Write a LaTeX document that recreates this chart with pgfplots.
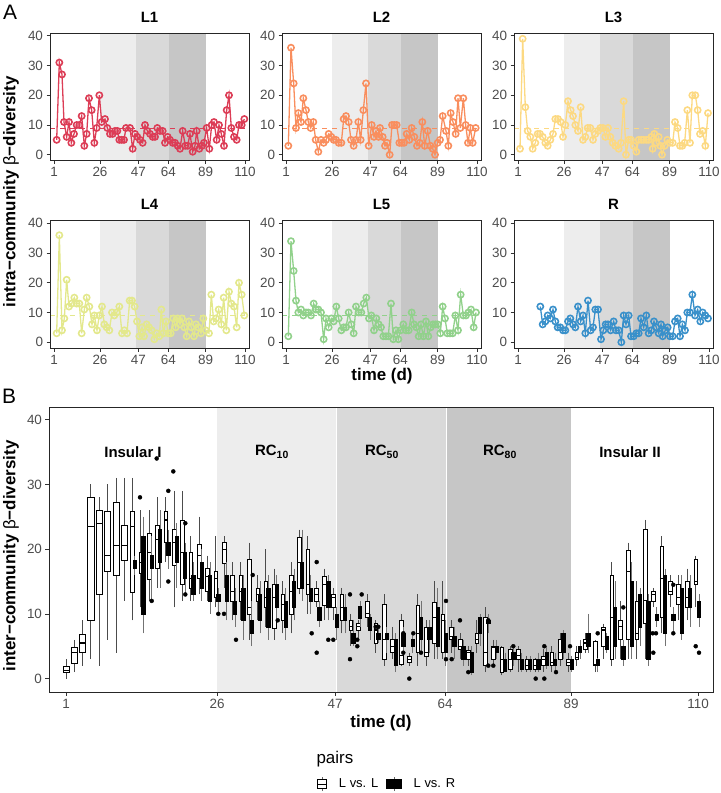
\documentclass[border=0pt]{standalone}
\usepackage{pgfplots}
\pgfplotsset{compat=1.18}
\usepgfplotslibrary{statistics}
\usepackage{pgfplotstable}
\usepackage{fontspec}
\setmainfont{Liberation Sans}
\definecolor{cLa}{HTML}{DC3D56}
\definecolor{cLb}{HTML}{F98E5E}
\definecolor{cLc}{HTML}{FCD982}
\definecolor{cLd}{HTML}{E3E88C}
\definecolor{cLe}{HTML}{91D18B}
\definecolor{cR}{HTML}{3990CA}
\definecolor{shA}{HTML}{EDEDED}
\definecolor{shB}{HTML}{D9D9D9}
\definecolor{shC}{HTML}{C6C6C6}
\definecolor{tickcol}{HTML}{4D4D4D}
\newcommand\tickfont{\fontsize{13.5}{14}\selectfont}
\newcommand\titlefont{\fontsize{15}{16}\selectfont}
\newcommand\labfont{\fontsize{17}{18}\selectfont}
\newcommand\legfont{\fontsize{13}{14}\selectfont}

\pgfplotsset{
 base/.style={scale only axis, tick pos=left, tick align=outside, major tick length=3.5bp,
   tick style={black!80, line width=0.7bp}, axis line style={black!85, line width=0.8bp},
   ticklabel style={font=\tickfont, text=tickcol}, /pgf/number format/assume math mode=true,
   axis on top, clip=true, ytick={0,10,20,30,40}, yticklabels={0,10,20,30,40}},
 panelA/.style={base, width=199bp, height=127.5bp, xmin=150, xmax=747, ymin=-1.95, ymax=40.95,
   xtick={162,300,415,505,617,735}, xticklabels={1,26,47,64,89,110},
   title style={font=\bfseries\titlefont, at={(0.5,1)}, anchor=center, yshift=10bp}},
 ser/.style={color=#1, line width=1.3bp, mark=o, mark size=3.1bp, mark options={line width=1.6bp, solid}},
 mean/.style={color=#1, line width=0.8bp, dash pattern=on 5bp off 5bp, forget plot},
 boxW/.style={draw=black, fill=white, line width=0.6bp, solid, boxplot/draw direction=y,
   boxplot/box extend=3.6, boxplot/whisker extend=0,
   boxplot/every whisker/.style={black!70}, boxplot/every median/.style={line width=1.1bp}},
 boxWw/.style={boxW, boxplot/box extend=6.4},
 boxB/.style={draw=black, fill=black, line width=0.6bp, solid, boxplot/draw direction=y,
   boxplot/box extend=3.4, boxplot/whisker extend=0,
   boxplot/every whisker/.style={black!55}},
}
\newcommand\shadeA{%
 \addplot[fill=shA, draw=none, forget plot] coordinates {(300,-5) (407,-5) (407,45) (300,45)} --cycle;
 \addplot[fill=shB, draw=none, forget plot] coordinates {(407,-5) (506,-5) (506,45) (407,45)} --cycle;
 \addplot[fill=shC, draw=none, forget plot] coordinates {(506,-5) (618,-5) (618,45) (506,45)} --cycle;
}
% draw one prepared box per table row: #1 table, #2 style, #3 median column
\newcommand\drawboxes[3]{%
  \pgfplotstablegetrowsof{#1}%
  \pgfmathtruncatemacro\NR{\pgfplotsretval-1}%
  \pgfplotsinvokeforeach{0,...,\NR}{%
    \pgfplotstablegetelem{##1}{x}\of#1\edef\bx{\pgfplotsretval}%
    \pgfplotstablegetelem{##1}{lw}\of#1\edef\blw{\pgfplotsretval}%
    \pgfplotstablegetelem{##1}{q1}\of#1\edef\bqa{\pgfplotsretval}%
    \pgfplotstablegetelem{##1}{#3}\of#1\edef\bmd{\pgfplotsretval}%
    \pgfplotstablegetelem{##1}{q3}\of#1\edef\bqb{\pgfplotsretval}%
    \pgfplotstablegetelem{##1}{uw}\of#1\edef\buw{\pgfplotsretval}%
    \edef\tmp{\noexpand\addplot[#2, forget plot, boxplot prepared={draw position=\bx, lower whisker=\blw, lower quartile=\bqa, median=\bmd, upper quartile=\bqb, upper whisker=\buw}] coordinates {};}%
    \tmp
  }%
}

\pgfplotstableread{
x lw q1 med q3 uw
66 0 0.9 1.2 1.95 3
74 1 2.3 4 4.8 6
82.3 2 4 5.5 6.8 9
90.7 3 9 23.5 28 30
99 2 13 24 26 28
107.3 6 16.5 19 25.8 30
116 4 16 20.5 27.3 31
124.3 12 18.2 20.5 23.7 31
}\LLw

\pgfplotstableread{
x lw q1 med q3 uw
132.3 9 13.3 23.5 25.8 31
140.7 11 16.3 18 19.5 26
149 12 15.3 19.5 22.5 26
157.3 14 17 21.5 23.7 28
165.7 18 21 24.5 25.8 28
174 11 17.5 21 23 29
182.3 12 14.5 19.5 24.5 29
190.7 12 14 15.5 19.5 22
199 13 15.5 19 20.8 25
207.3 12 13.5 15.8 17 19
215.7 11 12.5 15.5 16.5 22
224 14 17.8 20 21 22
232.3 9 12 13.5 16 18
240.7 9 12 13.5 16 18
249.3 6 10 11 18.5 21
257.7 9 12 13 14 16
265.7 8 11 12.5 15 20
274 6 7.8 12.5 14.5 17
282.7 7 9 11.5 13 15
291 7 10 13.5 16 18
299.3 13 14 18 21.8 23
307.7 10 13 14.5 20 22
316 11 12 13 14 15
324.3 9 11.3 14.5 15.8 17
333.3 9 11 12.5 13 14
341.7 7 9 11 13 14
350.7 5 7.5 8 9 10
358.3 6 7.5 8 8.5 9
367.3 8 9.5 10 12 13
375.7 4 5.5 7.5 8.5 9
384 2 3 6 11.5 13
392.3 3 4 5 6 8
401 2 2.2 3.5 9 10
409.3 2 2.5 3 3.5 4
417.7 2 4 7 11.3 13
426 2 3.5 4 8 9
434.3 3 5.5 9.5 11.8 15
442.7 3 4 9 10 15
451 4 6 6.5 8 9
460 3 4.5 5 6 7
468.3 2 3 4 4.3 5
476.7 4 5.5 6 7 9
485 1 2 4 9.5 11
493.3 2 3 4.8 5 6
501.7 0.5 1 3 4.8 5
510 1 1.5 3 4.5 5
518.3 1 3 3.5 4.5 5
526.7 1 1.5 2 3 3.5
535 1 1.5 2 3 3.2
543.3 1 2 3 3.5 4.5
551.7 1 2 2.5 4 5
560 2 3 4 6 7
568.3 1 2 2.5 3 4
576.7 2 3 3.3 4 5
585 4 4.5 5.5 6 7
595 1 2 2.2 5.8 6
603.3 3 5 7.5 8 8.5
611.7 2 3 9.5 16 18
620 3 6 8 9 12
628.3 3 6 16.5 19.8 21
636.7 3 6 7 12 15
645 3 8.5 12 23 24.5
653.3 11 12 13 13.5 14
661.7 7 9.5 15.5 20.5 22
670 11 13 13.5 15 16
678.3 9 11.5 12.5 14.5 16
687.3 9 11 12.5 15 17
695.7 11 14.5 15 18.5 19
}\LLn

\pgfplotstableread{
x lw q1 q3 uw
134.7 16 17 18.2 19
143.3 7 10 22 25
151.7 12 17 19 22
160 14 18 23 26
168.3 17 19 21 23
176.7 14 18 22 24
185 13 15.5 19.5 21
193.3 12 13 16 18
201.7 12 14 18 20
210 10 12 16 18
218.3 10.2 12 13 14
226.7 9 12 16 18
235 8 10 12 14
243.3 6 9 14 16
251.7 5 7 9 12
260 7 9 13 15
268.3 6 8 14 16
276.7 9 11 14.5 16
285.7 6 8 12 14
294 9 11 15 17
302 12 14 18 23
310.7 10 12 14 16
319.3 8 9 11 12
328.3 9 11 15 16
336.7 6 8 10 11
345 7 9 11 13
353.3 5 5.5 7 9
360 8 9.3 11.2 12
370 6 7.5 9.5 10
378.3 5.5 6 7 8
386.7 4 6 7 8
395.7 1 2 6 7
403.3 4 5 7 8
412.7 4 5 6 7
421 4 6 9.5 12
429.3 4 6 8 9
437.7 3 5 11 14
445.7 2 4 7 9
454.3 3 5 6.5 8
463.3 2 3 5 6
471.7 0.5 1 4 5
480 5 7 9.5 10
488.3 7 8.5 9 10
496.7 3 4 5 6
505 1 1.2 3 4
513.3 2 3 4 5
521.7 1 1.5 3 4
530 1 1.5 3 3.5
538.3 1 1.5 3 4
546.7 1.5 2 4 5
555 1 2 3 4
563.3 3 4 7 7.5
571.7 1 1.5 3 3.5
580 3 4 5 6
588.3 4 5 7 10
597.7 1 2 3 3.2
606.7 4 4.5 6.5 7
615 3 5 11 15
623.3 2 3 5 6
631.7 3 5 15 18
640 5 8 13 14
648.3 2 3 12 13
656.7 8 9 10 11
665 5 7 16 17
673.3 7 9 10 11
681.7 6 7 14 16
690 8 11 14 16
699 8 9.5 12 13
}\LR

\pgfplotstableread{
x y
140 28
151.7 12
156.7 34
168.3 29
168.3 15
173.3 32
185.3 24
185.3 13
218.3 10
224 10
236 6
252.7 16
277.7 9
311.7 7
316.7 18
316.7 4
328.3 6
333.3 6
350 13
350 3
357.3 6
357.3 5
361.7 13
375.7 8
378.3 8
403.3 7
403.3 5.5
403.3 4
409.3 0
413.3 7
421 4
446 12
446 3
451.7 3
460 9
468.3 1
488.3 9
488.3 2
493.3 2
513.3 5
535.7 0
544.3 5
544.3 0
556 1
570 5
597.7 7
623.3 11
652.7 7
656 7
653.3 4
673.3 14.5
673.3 7
695.7 5
699 4
}\OUT

\begin{document}
\begin{tikzpicture}
\useasboundingbox (0,0) rectangle (721bp,-793bp);

% ---------- Panel A ----------
\begin{axis}[panelA, at={(50bp,-33bp)}, anchor=north west, title={L1}]
\shadeA
\addplot[mean=cLa] coordinates {(150,8.9) (747,8.9)};
\addplot[ser=cLa] coordinates {(170,5)(178,31)(186,27)(192,11)(200,6)(207,11)(214,4)(222,7)(230,10)(238,10)(245,13)(253,3)(260,7)(267,19)(275,15)(283,4)(290,9)(298,20)(305,11)(315,12)(322,9)(330,7)(338,7)(345,8)(352,8)(358,5)(365,5)(372,5)(378,9)(390,9)(398,2)(405,7)(412,6)(420,5)(428,4)(435,10)(442,8)(450,7)(458,6)(465,6)(472,9)(480,8)(488,8)(495,4)(503,6)(510,5)(518,4)(525,4)(533,3)(540,2)(548,8)(556,3)(563,3)(570,7)(578,1)(585,3)(590,8)(598,2)(606,3)(612,4)(620,9)(628,2)(635,10)(642,11)(650,5)(657,10)(664,7)(672,3)(680,15)(687,20)(694,9)(702,6)(710,5)(717,10)(725,10)(733,12)};
\end{axis}

\begin{axis}[panelA, at={(282bp,-33bp)}, anchor=north west, title={L2}]
\shadeA
\addplot[mean=cLb] coordinates {(150,8.9) (747,8.9)};
\addplot[ser=cLb] coordinates {(169,3)(177,36)(185,24)(192,9)(199,14)(207,11)(214,19)(222,15)(229,11)(236,9)(244,11)(251,5)(259,1)(267,5)(275,4)(282,5)(290,7)(298,6)(305,5)(312,5)(320,4)(328,4)(335,12)(342,13)(350,11)(357,5)(365,3)(372,5)(379,11)(386,5)(394,15)(402,24)(410,3)(419,10)(426,6)(432,8)(440,6)(444,9)(452,6)(459,3)(465,4)(473,0)(480,10)(487,10)(494,10)(502,4)(509,4)(516,4)(524,7)(532,5)(539,9)(547,6)(555,3)(563,4)(571,11)(578,3)(587,8)(595,3)(602,2)(609,0)(617,4)(624,5)(632,13)(642,8)(649,3)(656,14)(663,11)(671,7)(678,19)(685,9)(694,19)(701,10)(708,4)(715,9)(722,4)(731,9)};
\end{axis}

\begin{axis}[panelA, at={(514bp,-33bp)}, anchor=north west, title={L3}]
\shadeA
\addplot[mean=cLc] coordinates {(150,8.9) (747,8.9)};
\addplot[ser=cLc] coordinates {(168,2)(176,39)(184,16)(191,8)(199,6)(206,2)(214,4)(221,7)(228,7)(236,6)(244,4)(251,3)(259,5)(267,7)(274,12)(282,12)(290,11)(297,6)(304,10)(312,18)(320,15)(327,13)(334,10)(342,8)(350,16)(357,5)(364,6)(371,9)(379,9)(387,5)(394,7)(402,8)(409,9)(417,9)(424,6)(432,9)(439,6)(446,4)(454,3)(464,2)(471,4)(479,18)(486,0)(494,5)(501,5)(509,3)(517,1)(524,5)(532,5)(539,5)(547,5)(554,5)(562,6)(566,2)(571,7)(577,4)(584,6)(589,3)(594,0)(602,3)(610,5)(618,4)(626,4)(633,11)(641,9)(648,3)(655,3)(662,4)(670,15)(678,4)(685,20)(694,20)(701,15)(708,7)(716,8)(724,3)(732,14)};
\end{axis}

\begin{axis}[panelA, at={(50bp,-220.5bp)}, anchor=north west, title={L4}]
\shadeA
\addplot[mean=cLd] coordinates {(150,8.9) (747,8.9)};
\addplot[ser=cLd] coordinates {(170,3)(178,36)(186,4)(193,8)(200,21)(207,12)(215,13)(223,15)(230,13)(238,13)(245,3)(253,11)(260,15)(268,12)(276,6)(283,9)(291,4)(298,9)(306,12)(313,6)(320,5)(328,4)(336,10)(343,9)(350,10)(358,12)(366,3)(373,4)(381,3)(389,14)(396,14)(404,12)(411,7)(418,2)(426,5)(432,2)(440,6)(447,5)(455,4)(463,1)(470,3)(478,2)(484,11)(490,3)(498,7)(505,3)(512,3)(520,8)(527,5)(533,8)(540,6)(546,8)(553,5)(560,2)(567,7)(574,5)(582,2)(588,6)(595,5)(603,3)(610,8)(617,4)(627,3)(634,16)(641,7)(648,8)(656,11)(664,6)(671,15)(679,4)(687,17)(694,13)(702,12)(710,5)(717,20)(725,16)(733,9)};
\end{axis}

\begin{axis}[panelA, at={(282bp,-220.5bp)}, anchor=north west, title={L5}]
\shadeA
\addplot[mean=cLe] coordinates {(150,8.9) (747,8.9)};
\addplot[ser=cLe] coordinates {(169,2)(177,34)(185,24)(192,14)(199,10)(207,11)(214,9)(222,10)(229,10)(237,9)(245,13)(252,11)(259,11)(267,10)(275,1)(282,8)(290,5)(298,8)(305,7)(313,12)(320,8)(328,4)(335,5)(342,5)(350,10)(358,6)(365,3)(372,12)(380,10)(388,10)(395,13)(403,15)(411,8)(418,9)(426,4)(433,8)(440,6)(447,5)(454,2)(462,2)(469,2)(477,13)(484,1)(492,4)(499,1)(506,4)(514,6)(522,4)(530,4)(539,10)(546,6)(553,5)(560,2)(567,6)(574,2)(582,7)(589,2)(596,5)(603,6)(610,6)(617,6)(625,3)(632,12)(639,8)(646,3)(654,3)(662,3)(670,9)(678,4)(686,16)(694,9)(702,9)(709,10)(717,11)(725,5)(732,10)};
\end{axis}

\begin{axis}[panelA, at={(514bp,-220.5bp)}, anchor=north west, title={R}]
\shadeA
\addplot[ser=cR] coordinates {(229,12)(236,6)(244,7)(251,9)(259,8)(267,11)(274,7)(281,5)(289,5)(297,4)(304,4)(312,7)(319,8)(327,6)(334,5)(342,12)(350,7)(357,9)(364,3)(372,14)(380,4)(387,5)(394,11)(402,11)(411,1)(418,4)(425,6)(432,6)(440,4)(449,7)(456,4)(464,4)(472,0)(479,9)(486,6)(494,9)(501,2)(509,2)(517,3)(524,3)(531,8)(539,5)(547,9)(554,3)(562,4)(570,7)(577,5)(584,3)(591,6)(596,2)(604,4)(611,5)(618,2)(626,2)(633,7)(641,8)(648,2)(655,6)(663,4)(670,10)(678,10)(685,16)(693,9)(701,11)(709,7)(716,10)(724,9)(732,8)};
\end{axis}

% ---------- Panel B ----------
\begin{axis}[base, at={(49bp,-407bp)}, anchor=north west, width=664bp, height=285bp,
  xmin=49, xmax=713, ymin=-2.07, ymax=41.95,
  xtick={66,217,335,445,571,698}, xticklabels={1,26,47,64,89,110},
  legend style={at={(axis description cs:0.4036,-0.323)}, anchor=west, draw=none, fill=none,
    inner sep=0pt, legend columns=2, font=\legfont, legend cell align=left,
    /tikz/every odd column/.append style={column sep=10bp},
    /tikz/every even column/.append style={column sep=6bp}}]
\addplot[fill=shA, draw=none, forget plot] coordinates {(217,-5) (336,-5) (336,45) (217,45)} --cycle;
\addplot[fill=shB, draw=none, forget plot] coordinates {(336,-5) (446,-5) (446,45) (336,45)} --cycle;
\addplot[fill=shC, draw=none, forget plot] coordinates {(446,-5) (571,-5) (571,45) (446,45)} --cycle;
\addplot[white, line width=0.8bp, forget plot] coordinates {(336,-5) (336,45)};
\addplot[white, line width=0.8bp, forget plot] coordinates {(446,-5) (446,45)};
\drawboxes{\LLw}{boxWw}{med}
\drawboxes{\LLn}{boxW}{med}
\drawboxes{\LR}{boxB}{q1}
% outliers
\addplot[only marks, mark=*, mark size=2bp, black, forget plot] table[x=x, y=y] {\OUT};
% phase labels
\node[font=\bfseries\fontsize{15}{16}\selectfont] at (axis cs:133,35) {Insular I};
\node[font=\bfseries\fontsize{15}{16}\selectfont] at (axis cs:272,35) {RC\textsubscript{10}};
\node[font=\bfseries\fontsize{15}{16}\selectfont] at (axis cs:382,35) {RC\textsubscript{50}};
\node[font=\bfseries\fontsize{15}{16}\selectfont] at (axis cs:500,35) {RC\textsubscript{80}};
\node[font=\bfseries\fontsize{15}{16}\selectfont] at (axis cs:630,35) {Insular II};
% legend
\addlegendimage{legend image code/.code={
  \draw[black!60, line width=0.6bp] (4.5bp,-7bp) -- (4.5bp,7bp);
  \draw[black, fill=white, line width=0.6bp] (0bp,-4.5bp) rectangle (9bp,4.5bp);
  \draw[black, line width=0.8bp] (0bp,0bp) -- (9bp,0bp);}}
\addlegendentry{L vs. L}
\addlegendimage{legend image code/.code={
  \draw[black!60, line width=0.6bp] (7.5bp,-7bp) -- (7.5bp,7bp);
  \fill[black] (0bp,-4.5bp) rectangle (15bp,4.5bp);}}
\addlegendentry{L vs. R}
\end{axis}

% shared labels
\node[font=\fontsize{21}{22}\selectfont, anchor=center] at (10bp,-12bp) {A};
\node[font=\fontsize{21}{22}\selectfont, anchor=center] at (9bp,-396bp) {B};
\node[font=\bfseries\labfont, rotate=90] at (11bp,-192bp) {intra−community {\mdseries β}−diversity};
\node[font=\bfseries\labfont, rotate=90] at (11bp,-556bp) {inter−community {\mdseries β}−diversity};
\node[font=\bfseries\labfont] at (382bp,-376bp) {time (d)};
\node[font=\bfseries\labfont] at (381bp,-723bp) {time (d)};
\node[font=\fontsize{17}{18}\selectfont, anchor=west] at (313bp,-759bp) {pairs};
\end{tikzpicture}
\end{document}
